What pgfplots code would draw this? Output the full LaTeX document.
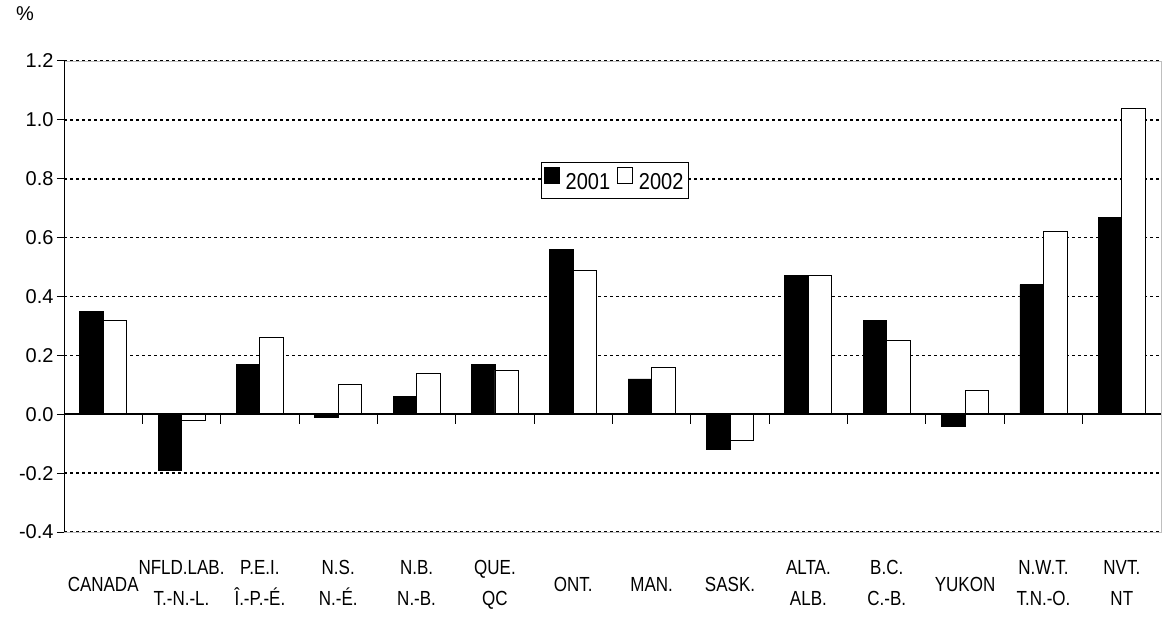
\documentclass[border=0pt]{standalone}
\usepackage{pgfplots}
\pgfplotsset{compat=1.18}
\usepackage{fontspec}
\setmainfont{Liberation Sans}
\usepackage{graphicx}
\newcommand\lab[2]{\scalebox{1}[1.2]{\renewcommand\arraystretch{1.26}\begin{tabular}{@{}c@{}}#1\\#2\end{tabular}}}
\newcommand\one[1]{\scalebox{1}[1.2]{#1}}

\pgfplotstableread{
x  y2001  y2002
0   0.35   0.32
1  -0.19  -0.02
2   0.17   0.26
3  -0.01   0.10
4   0.06   0.14
5   0.17   0.15
6   0.56   0.49
7   0.12   0.16
8  -0.12  -0.09
9   0.47   0.47
10  0.32   0.25
11 -0.04   0.08
12  0.44   0.62
13  0.67   1.04
}\growth

\begin{document}
\begin{tikzpicture}
\path[use as bounding box] (0,0) rectangle (1162bp,625bp);
\node[font=\fontsize{20bp}{20bp}\selectfont] at (25bp,611bp) {\%};
\begin{axis}[
  at={(64bp,93bp)}, anchor=south west,
  scale only axis, width=1097bp, height=471bp,
  ybar=0pt, bar width=23.5bp,
  xmin=-0.5, xmax=13.5, ymin=-0.4, ymax=1.2,
  xtick={0,...,13},
  xticklabels={\one{CANADA},\lab{NFLD.LAB.}{T.-N.-L.},\lab{P.E.I.}{Î.-P.-É.},\lab{N.S.}{N.-É.},\lab{N.B.}{N.-B.},\lab{QUE.}{QC},\one{ONT.},\one{MAN.},\one{SASK.},\lab{ALTA.}{ALB.},\lab{B.C.}{C.-B.},\one{YUKON},\lab{N.W.T.}{T.N.-O.},\lab{NVT.}{NT}},
  xtick style={draw=none},
  xticklabel style={font=\fontsize{17bp}{20bp}\selectfont, anchor=center, yshift=-45bp},
  ytick={-0.4,-0.2,...,1.21},
  ytick pos=left, tick align=outside, major tick length=7bp,
  ytick style={black, line width=1bp},
  yticklabel style={font=\fontsize{20bp}{20bp}\selectfont},
  /pgf/number format/assume math mode=true,
  yticklabel={\pgfmathprintnumber[fixed,fixed zerofill,precision=1]{\tick}},
  ymajorgrids,
  major grid style={black, line width=1.6bp, dash pattern=on 3bp off 3bp},
  axis line style={draw=gray!50, line width=0.8bp},
  legend style={at={(0.502,0.747)}, anchor=center, legend columns=2,
    draw=black, line width=0.8bp, inner xsep=3bp, inner ysep=5bp,
    font=\fontsize{20bp}{20bp}\selectfont,
    /tikz/every odd column/.append style={column sep=4bp},
    /tikz/every even column/.append style={column sep=5bp}},
  legend image code/.code={\draw[#1, line width=0.8bp] (0bp,-1bp) rectangle (15bp,15bp);},
]
\addplot[fill=black, draw=black, line width=0.8bp] table[x=x, y=y2001] {\growth};
\addlegendentry{\scalebox{1}[1.15]{2001}}
\addplot[fill=white, draw=black, line width=0.8bp] table[x=x, y=y2002] {\growth};
\addlegendentry{\scalebox{1}[1.15]{2002}}
\draw[black, line width=1.2bp] (axis cs:-0.5,-0.4) -- (axis cs:-0.5,1.2);
\draw[black, line width=1.6bp] (axis cs:-0.5,0) -- (axis cs:13.5,0);
\pgfplotsinvokeforeach{0,...,12}{
  \draw[black, line width=1bp] (axis cs:#1+0.5,0) -- (axis cs:#1+0.5,-0.034);
}
\end{axis}
\end{tikzpicture}
\end{document}
